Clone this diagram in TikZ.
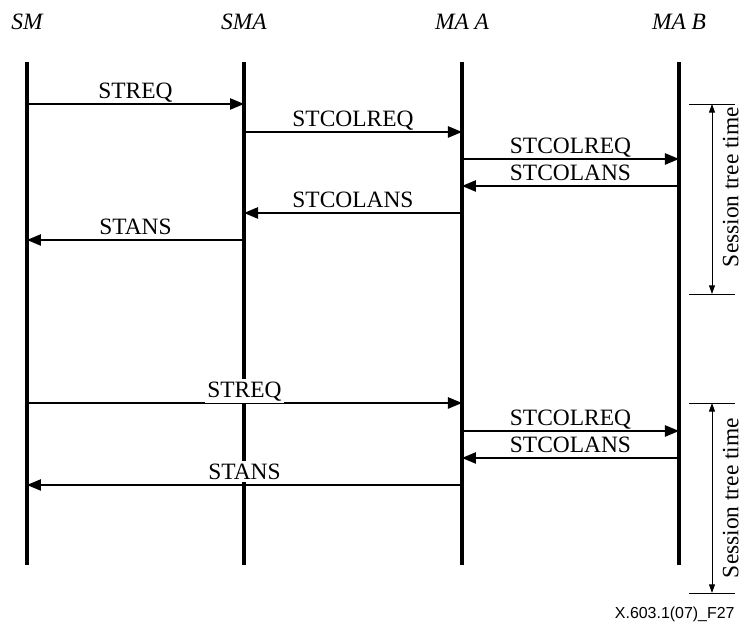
\documentclass[tikz,border=0pt]{standalone}
\usepackage{fontspec}
\setmainfont{Liberation Serif}
\newfontfamily\figfont{Liberation Sans}
\usepackage{tikz}
\usetikzlibrary{arrows.meta}

\begin{document}
\begin{tikzpicture}[
		life/.style = {line width = 1.3pt},
		msg/.style = {line width = 0.6pt, -{Triangle[length = 2.1mm, width = 1.7mm]}},
		lab/.style = {midway, anchor = base, yshift = 2.5pt, inner sep = 1pt},
		head/.style = {font = \itshape}
	]
		\useasboundingbox (0, 0) rectangle (11.13, 9.39);
		% lifelines
		\foreach \x/\n/\t in {0.405/sm/SM, 3.66/sma/SMA, 6.93/maa/MA A, 10.185/mab/MA B} {
			\node [head] (\n) at (\x, 9.06) {\t};
			\draw [life] (\x, 8.46) -- (\x, 0.915);
		}
		% first collection
		\draw [msg] (sm |- 0, 7.83) -- node [lab] {STREQ} (sma |- 0, 7.83);
		\draw [msg] (sma |- 0, 7.41) -- node [lab] {STCOLREQ} (maa |- 0, 7.41);
		\draw [msg] (maa |- 0, 7.005) -- node [lab] {STCOLREQ} (mab |- 0, 7.005);
		\draw [msg] (mab |- 0, 6.6) -- node [lab] {STCOLANS} (maa |- 0, 6.6);
		\draw [msg] (maa |- 0, 6.195) -- node [lab] {STCOLANS} (sma |- 0, 6.195);
		\draw [msg] (sma |- 0, 5.79) -- node [lab] {STANS} (sm |- 0, 5.79);
		% second collection
		\draw [msg] (sm |- 0, 3.345) -- node [lab, fill = white] {STREQ} (maa |- 0, 3.345);
		\draw [msg] (maa |- 0, 2.925) -- node [lab] {STCOLREQ} (mab |- 0, 2.925);
		\draw [msg] (mab |- 0, 2.52) -- node [lab] {STCOLANS} (maa |- 0, 2.52);
		\draw [msg] (maa |- 0, 2.115) -- node [lab, fill = white] {STANS} (sm |- 0, 2.115);
		% session tree time
		\foreach \a/\b/\m in {7.83/4.98/6.585, 3.345/0.495/1.92} {
			\draw [line width = 0.4pt]
				(10.335, \a) -- (11.025, \a)
				(10.335, \b) -- (11.025, \b);
			\draw [line width = 0.4pt, {Triangle[length = 1.3mm, width = 0.9mm]}-{Triangle[length = 1.3mm, width = 0.9mm]}]
				(10.68, \a) -- (10.68, \b);
			\node [rotate = 90, inner sep = 0pt] at (10.96, \m) {Session tree time};
		}
		\node [font = \figfont\fontsize{6.8}{8}\selectfont, anchor = east, inner sep = 0pt] (fig) at (11.025, 0.17) {X.603.1(07)\_F27};
\end{tikzpicture}
\end{document}
